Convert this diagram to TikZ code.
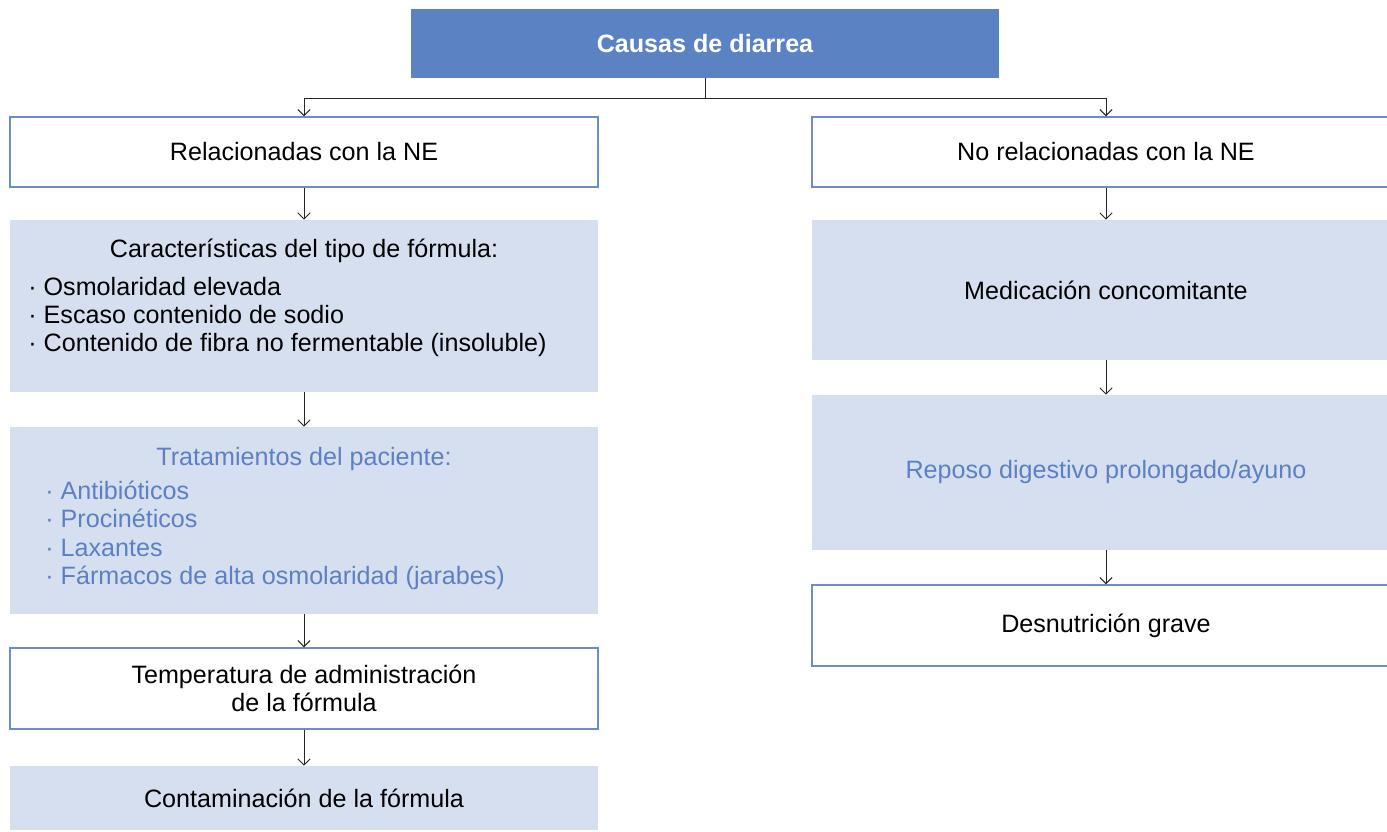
\documentclass[tikz,border=0pt]{standalone}
\usepackage{fontspec}
\setmainfont{Liberation Sans}
\usepackage{xcolor}
\usetikzlibrary{arrows.meta}
\definecolor{headblue}{HTML}{5B82C2}
\definecolor{lightblue}{HTML}{D6DFEF}
\definecolor{textblue}{HTML}{5B80C4}
\definecolor{edgeblue}{HTML}{6B8DCB}
\newcommand{\boxfont}{\fontsize{14.3}{16.2}\selectfont}
\tikzset{
  headbox/.style={fill=headblue, text=white, font=\boxfont\bfseries, minimum width=11.76cm, minimum height=1.38cm},
  whitebox/.style={draw=edgeblue, line width=0.8pt, fill=white, minimum width=11.76cm, align=center},
  shadebox/.style={fill=lightblue, minimum width=11.76cm, align=center},
  link/.style={-{Straight Barb[length=3.5pt,width=7pt]}, line width=0.55pt, black!85},
}
\begin{document}
\begin{tikzpicture}[font=\boxfont, inner sep=0pt]
  \useasboundingbox (0,0) rectangle (27.74,-16.64);
  \node[headbox] (top) at (14.1,-0.87) {Causas de diarrea};
  % left column
  \node[whitebox, minimum height=1.4cm] (L1) at (6.08,-3.04) {Relacionadas con la NE};
  \node[shadebox, minimum height=3.44cm] (L2) at (6.08,-6.12) {};
  \node (L2head) at (6.08,-5.02) {Características del tipo de fórmula:};
  \node[anchor=west, align=left] (L2list) at (0.56,-6.34)
    {· Osmolaridad elevada\\ · Escaso contenido de sodio\\ · Contenido de fibra no fermentable (insoluble)};
  \node[shadebox, minimum height=3.74cm] (L3) at (6.08,-10.41) {};
  \node[text=textblue] (L3head) at (6.08,-9.18) {Tratamientos del paciente:};
  \node[anchor=west, align=left, text=textblue] (L3list) at (0.9,-10.71)
    {· Antibióticos\\ · Procinéticos\\ · Laxantes\\ · Fármacos de alta osmolaridad (jarabes)};
  \node[whitebox, minimum height=1.62cm] (L4) at (6.08,-13.77) {Temperatura de administración\\ de la fórmula};
  \node[shadebox, minimum height=1.28cm] (L5) at (6.08,-15.96) {Contaminación de la fórmula};
  % right column
  \node[whitebox, minimum height=1.4cm] (R1) at (22.12,-3.04) {No relacionadas con la NE};
  \node[shadebox, minimum height=2.8cm] (R2) at (22.12,-5.8) {Medicación concomitante};
  \node[shadebox, minimum height=3.1cm, text=textblue] (R3) at (22.12,-9.45) {Reposo digestivo prolongado/ayuno};
  \node[whitebox, minimum height=1.62cm] (R4) at (22.12,-12.51) {Desnutrición grave};
  % connectors
  \draw[link, -] (top.south) -- ++(0,-0.4) coordinate (split);
  \draw[link] (split) -| (L1.north); \draw[link] (split) -| (R1.north);
  \draw[link] (L1) -- (L2); \draw[link] (L2) -- (L3);
  \draw[link] (L3) -- (L4); \draw[link] (L4) -- (L5);
  \draw[link] (R1) -- (R2); \draw[link] (R2) -- (R3); \draw[link] (R3) -- (R4);
\end{tikzpicture}
\end{document}
